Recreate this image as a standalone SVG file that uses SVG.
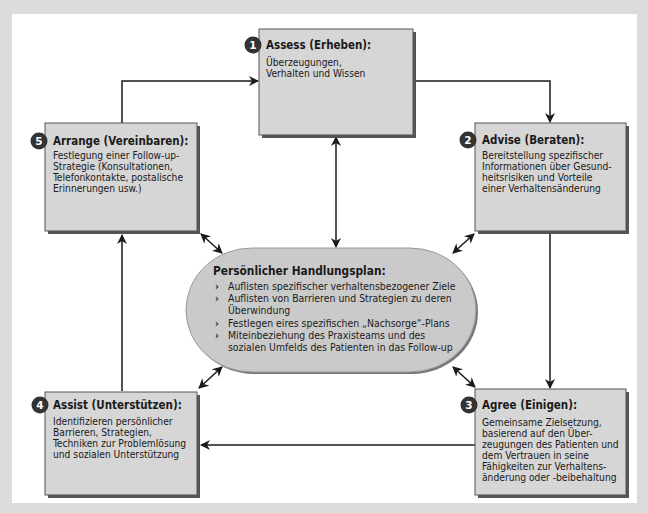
<svg xmlns="http://www.w3.org/2000/svg" width="648" height="513" viewBox="0 0 648 513">
<defs>
<style>
.box{fill:#d6d6d6;stroke:#555;stroke-width:1}
.sh{fill:#555}
.ttl{font-family:"DejaVu Sans","Liberation Sans",sans-serif;font-stretch:condensed;font-weight:bold;font-size:11.5px;fill:#1a1a1a}
.bd{font-family:"DejaVu Sans","Liberation Sans",sans-serif;font-stretch:condensed;font-size:10.2px;fill:#1a1a1a}
.bl{font-family:"DejaVu Sans","Liberation Sans",sans-serif;font-weight:bold;font-size:10.5px;fill:#1a1a1a}
.nc{fill:#333}
.nt{font-family:"DejaVu Sans","Liberation Sans",sans-serif;font-weight:bold;font-size:10.5px;fill:#fff;text-anchor:middle}
.ln{fill:none;stroke:#1a1a1a;stroke-width:1.5}
</style>
<marker id="ah" viewBox="0 0 10 10" refX="9" refY="5" markerWidth="10" markerHeight="10" markerUnits="userSpaceOnUse" orient="auto-start-reverse">
<path d="M0,0 L10,5 L0,10 L3,5 z" fill="#1a1a1a"/>
</marker>
</defs>
<rect x="0" y="0" width="648" height="513" fill="#dcdcdc"/>
<rect x="12" y="14" width="625" height="489" fill="#ffffff"/>

<g id="connectors">
<path class="ln" d="M122,123 V81 H258" marker-end="url(#ah)"/>
<path class="ln" d="M413,81 H550 V122" marker-end="url(#ah)"/>
<path class="ln" d="M550,234 V388" marker-end="url(#ah)"/>
<path class="ln" d="M475,445 H201" marker-end="url(#ah)"/>
<path class="ln" d="M122,391 V235" marker-end="url(#ah)"/>
<path class="ln" d="M336,137 V247" marker-start="url(#ah)" marker-end="url(#ah)"/>
<path class="ln" d="M201,234 L222,253" marker-start="url(#ah)" marker-end="url(#ah)"/>
<path class="ln" d="M474,234 L453,253" marker-start="url(#ah)" marker-end="url(#ah)"/>
<path class="ln" d="M222,367 L199,388" marker-start="url(#ah)" marker-end="url(#ah)"/>
<path class="ln" d="M453,367 L475,387" marker-start="url(#ah)" marker-end="url(#ah)"/>
</g>

<g id="plan">
<rect x="188" y="250" width="290" height="124" rx="66" ry="62" fill="#777"/>
<rect x="186" y="248" width="290" height="124" rx="66" ry="62" fill="#cacaca" stroke="#999" stroke-width="1"/>
<text class="ttl" x="213" y="275" style="font-size:11.8px">Persönlicher Handlungsplan:</text>
<g class="bd" style="font-size:10.4px">
<text class="bl" x="215" y="290">›</text>
<text x="228" y="290">Auflisten spezifischer verhaltensbezogener Ziele</text>
<text class="bl" x="215" y="302">›</text>
<text x="228" y="302">Auflisten von Barrieren und Strategien zu deren</text>
<text x="228" y="314">Überwindung</text>
<text class="bl" x="215" y="327">›</text>
<text x="228" y="327">Festlegen eires spezifischen „Nachsorge“-Plans</text>
<text class="bl" x="215" y="339">›</text>
<text x="228" y="339">Miteinbeziehung des Praxisteams und des</text>
<text x="228" y="351">sozialen Umfelds des Patienten in das Follow-up</text>
</g>
</g>

<g id="assess">
<rect class="sh" x="262" y="32" width="154" height="106"/>
<rect class="box" x="259" y="29" width="154" height="106"/>
<circle class="nc" cx="253" cy="45" r="8.5"/>
<text class="nt" x="253" y="49">1</text>
<text class="ttl" x="266" y="49">Assess (Erheben):</text>
<text class="bd" x="266" y="66">Überzeugungen,</text>
<text class="bd" x="266" y="77">Verhalten und Wissen</text>
</g>

<g id="advise">
<rect class="sh" x="478" y="126" width="151" height="108"/>
<rect class="box" x="475" y="123" width="151" height="108"/>
<circle class="nc" cx="468" cy="140" r="8.5"/>
<text class="nt" x="468" y="144">2</text>
<text class="ttl" x="482" y="144">Advise (Beraten):</text>
<text class="bd" x="482" y="159">Bereitstellung spezifischer</text>
<text class="bd" x="482" y="170">Informationen über Gesund-</text>
<text class="bd" x="482" y="181">heitsrisiken und Vorteile</text>
<text class="bd" x="482" y="192">einer Verhaltensänderung</text>
</g>

<g id="agree">
<rect class="sh" x="478" y="392" width="151" height="106"/>
<rect class="box" x="475" y="389" width="151" height="106"/>
<circle class="nc" cx="469" cy="405" r="8.5"/>
<text class="nt" x="469" y="409">3</text>
<text class="ttl" x="482" y="409">Agree (Einigen):</text>
<text class="bd" x="482" y="426">Gemeinsame Zielsetzung,</text>
<text class="bd" x="482" y="437">basierend auf den Über-</text>
<text class="bd" x="482" y="448">zeugungen des Patienten und</text>
<text class="bd" x="482" y="459">dem Vertrauen in seine</text>
<text class="bd" x="482" y="470">Fähigkeiten zur Verhaltens-</text>
<text class="bd" x="482" y="481">änderung oder -beibehaltung</text>
</g>

<g id="assist">
<rect class="sh" x="48" y="395" width="152" height="103"/>
<rect class="box" x="45" y="392" width="152" height="103"/>
<circle class="nc" cx="40" cy="405" r="8.5"/>
<text class="nt" x="40" y="409">4</text>
<text class="ttl" x="53" y="409">Assist (Unterstützen):</text>
<text class="bd" x="53" y="425">Identifizieren persönlicher</text>
<text class="bd" x="53" y="436">Barrieren, Strategien,</text>
<text class="bd" x="53" y="447">Techniken zur Problemlösung</text>
<text class="bd" x="53" y="458">und sozialen Unterstützung</text>
</g>

<g id="arrange">
<rect class="sh" x="48" y="126" width="152" height="108"/>
<rect class="box" x="45" y="123" width="152" height="108"/>
<circle class="nc" cx="39" cy="141" r="8.5"/>
<text class="nt" x="39" y="145">5</text>
<text class="ttl" x="53" y="145">Arrange (Vereinbaren):</text>
<text class="bd" x="53" y="159">Festlegung einer Follow-up-</text>
<text class="bd" x="53" y="170">Strategie (Konsultationen,</text>
<text class="bd" x="53" y="181">Telefonkontakte, postalische</text>
<text class="bd" x="53" y="192">Erinnerungen usw.)</text>
</g>
</svg>
